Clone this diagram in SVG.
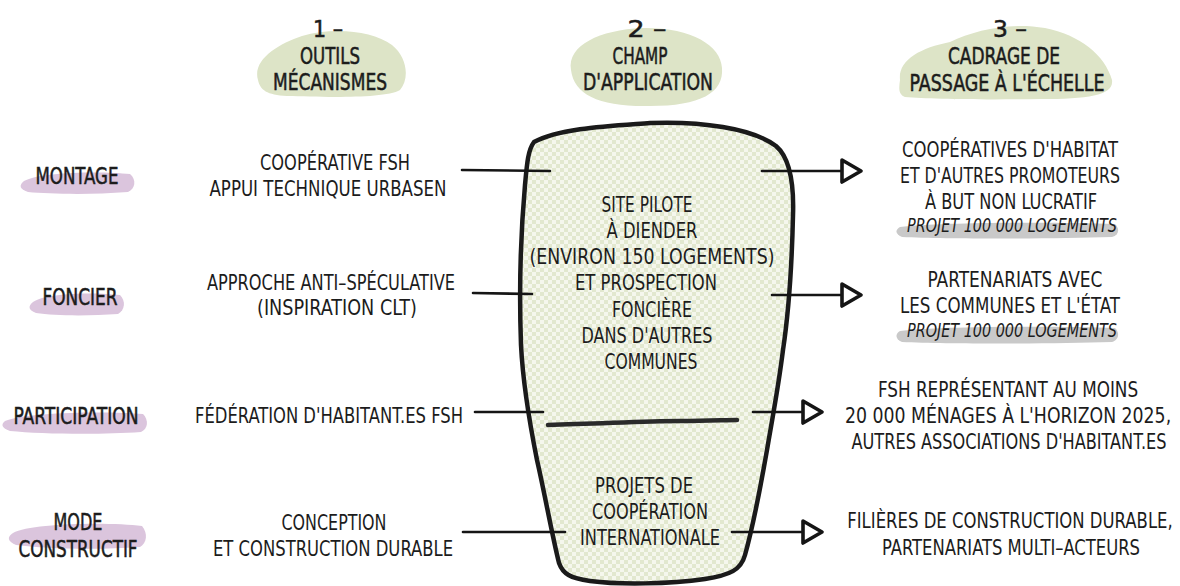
<svg xmlns="http://www.w3.org/2000/svg" width="1180" height="586" viewBox="0 0 1180 586">
<style>
text{font-family:"Liberation Sans Narrow","DejaVu Sans Condensed","Liberation Sans",sans-serif;fill:#1c1c1c;text-anchor:middle;}
.h{font-size:23px;stroke:#1c1c1c;stroke-width:0.5px;}
.b{font-size:22px;}
.i{font-size:19px;font-style:italic;}
.gb{fill:#dde4c7;}
.pb{fill:#dbc5dd;}
.gr{fill:#c9c9c9;}
.ln{stroke:#151515;stroke-width:2.6;fill:none;stroke-linecap:round;}
.ar{stroke:#151515;stroke-width:2.6;fill:none;stroke-linecap:round;marker-end:url(#tri);}
</style>
<defs>
<pattern id="chk" width="8" height="8" patternUnits="userSpaceOnUse">
<rect width="8" height="8" fill="#f5f7ed"/>
<rect width="4" height="4" fill="#e2e8cf"/>
<rect x="4" y="4" width="4" height="4" fill="#e2e8cf"/>
</pattern>
<marker id="tri" viewBox="0 0 24 28" refX="2" refY="14" markerWidth="24" markerHeight="28" markerUnits="userSpaceOnUse" orient="auto">
<path d="M2,3 L21,14 L2,25 Z" fill="#fff" stroke="#151515" stroke-width="3.6" stroke-linejoin="round"/>
</marker>
</defs>
<rect width="1180" height="586" fill="#fff"/>

<g id="header-1">
<path class="gb" d="M258,80 C252,60 278,44 302,36 C332,27 372,30 392,45 C407,57 410,78 400,90 C385,99 322,97 287,96 C267,95 260,90 258,80 Z"/>
<text class="h" x="328" y="37" textLength="30" lengthAdjust="spacingAndGlyphs">1 –</text>
<text class="h" x="330" y="64" textLength="60" lengthAdjust="spacingAndGlyphs">OUTILS</text>
<text class="h" x="330" y="90" textLength="114" lengthAdjust="spacingAndGlyphs">MÉCANISMES</text>
</g>

<g id="header-2">
<path class="gb" d="M571,70 C567,45 600,30 642,28 C690,27 721,45 722,68 C724,93 700,106 650,106 C600,107 574,95 571,70 Z"/>
<text class="h" x="647" y="37" textLength="39" lengthAdjust="spacingAndGlyphs">2 –</text>
<text class="h" x="640" y="64" textLength="55" lengthAdjust="spacingAndGlyphs">CHAMP</text>
<text class="h" x="648" y="90" textLength="130" lengthAdjust="spacingAndGlyphs">D'APPLICATION</text>
</g>

<g id="header-3">
<path class="gb" d="M900,80 C898,60 920,48 950,42 C975,30 1010,22 1045,28 C1080,35 1105,55 1112,80 C1114,95 1090,99 1040,99 C980,100 930,99 905,97 C898,94 899,88 900,80 Z"/>
<text class="h" x="1010" y="37" textLength="34" lengthAdjust="spacingAndGlyphs">3 –</text>
<text class="h" x="1004" y="64" textLength="112" lengthAdjust="spacingAndGlyphs">CADRAGE DE</text>
<text class="h" x="1007" y="91" textLength="195" lengthAdjust="spacingAndGlyphs">PASSAGE À L'ÉCHELLE</text>
</g>

<g id="label-montage">
<path class="pb" d="M24,181 C40,172 100,171 130,174 C137,180 135,189 128,192 C90,195 50,194 28,192 C19,189 19,185 24,181 Z"/>
<text class="h" x="77" y="184" textLength="83" lengthAdjust="spacingAndGlyphs">MONTAGE</text>
</g>
<g id="label-foncier">
<path class="pb" d="M33,302 C45,293 95,292 120,295 C126,301 125,310 118,314 C90,316 55,316 36,313 C28,310 28,306 33,302 Z"/>
<text class="h" x="80" y="305" textLength="75" lengthAdjust="spacingAndGlyphs">FONCIER</text>
</g>
<g id="label-participation">
<path class="pb" d="M5,421 C25,412 110,411 143,414 C149,420 148,429 141,432 C100,435 40,434 10,431 C1,428 1,424 5,421 Z"/>
<text class="h" x="76" y="424" textLength="125" lengthAdjust="spacingAndGlyphs">PARTICIPATION</text>
</g>
<g id="label-mode">
<path class="pb" d="M13,533 C30,523 110,522 142,526 C148,533 147,543 140,547 C100,550 45,549 16,545 C7,541 7,537 13,533 Z"/>
<text class="h" x="78" y="530" textLength="49" lengthAdjust="spacingAndGlyphs">MODE</text>
<text class="h" x="78" y="557" textLength="119" lengthAdjust="spacingAndGlyphs">CONSTRUCTIF</text>
</g>

<g id="tool-montage">
<text class="b" x="335" y="170" textLength="150" lengthAdjust="spacingAndGlyphs">COOPÉRATIVE FSH</text>
<text class="b" x="328" y="196" textLength="237" lengthAdjust="spacingAndGlyphs">APPUI TECHNIQUE URBASEN</text>
</g>
<g id="tool-foncier">
<text class="b" x="331" y="290" textLength="248" lengthAdjust="spacingAndGlyphs">APPROCHE ANTI–SPÉCULATIVE</text>
<text class="b" x="337" y="315" textLength="160" lengthAdjust="spacingAndGlyphs">(INSPIRATION CLT)</text>
</g>
<g id="tool-participation">
<text class="b" x="329" y="423" textLength="268" lengthAdjust="spacingAndGlyphs">FÉDÉRATION D'HABITANT.ES FSH</text>
</g>
<g id="tool-mode">
<text class="b" x="334" y="530" textLength="105" lengthAdjust="spacingAndGlyphs">CONCEPTION</text>
<text class="b" x="333" y="556" textLength="240" lengthAdjust="spacingAndGlyphs">ET CONSTRUCTION DURABLE</text>
</g>

<g id="champ-application">
<path d="M534,142 C560,128 610,126 650,123 C700,121 752,128 776,146 C790,158 794,185 793,215 C792,260 789,310 783,350 C778,390 772,420 767,450 C760,490 752,530 745,555 C741,570 730,575 705,579 C670,584 620,585 590,581 C570,578 563,574 559,563 C552,535 545,495 537,460 C530,425 523,385 521,345 C519,290 521,230 525,185 C527,163 528,150 534,142 Z" fill="url(#chk)" stroke="#1a1a1a" stroke-width="4.5" stroke-linejoin="round"/>
<path d="M548,425 C600,424 640,421 680,421 C710,421 725,420 737,420" fill="none" stroke="#2a2a2a" stroke-width="4.5" stroke-linecap="round"/>
<text class="b" x="647" y="212" textLength="91" lengthAdjust="spacingAndGlyphs">SITE PILOTE</text>
<text class="b" x="652" y="238" textLength="91" lengthAdjust="spacingAndGlyphs">À DIENDER</text>
<text class="b" x="652" y="264" textLength="245" lengthAdjust="spacingAndGlyphs">(ENVIRON 150 LOGEMENTS)</text>
<text class="b" x="646" y="290" textLength="142" lengthAdjust="spacingAndGlyphs">ET PROSPECTION</text>
<text class="b" x="652" y="317" textLength="80" lengthAdjust="spacingAndGlyphs">FONCIÈRE</text>
<text class="b" x="647" y="343" textLength="131" lengthAdjust="spacingAndGlyphs">DANS D'AUTRES</text>
<text class="b" x="651" y="369" textLength="93" lengthAdjust="spacingAndGlyphs">COMMUNES</text>
<text class="b" x="644" y="493" textLength="98" lengthAdjust="spacingAndGlyphs">PROJETS DE</text>
<text class="b" x="650" y="519" textLength="116" lengthAdjust="spacingAndGlyphs">COOPÉRATION</text>
<text class="b" x="650" y="545" textLength="140" lengthAdjust="spacingAndGlyphs">INTERNATIONALE</text>
</g>

<g id="scale-montage">
<path class="gr" d="M900,227 C940,222 1060,222 1115,224 C1120,229 1119,235 1112,237 C1050,239 950,239 902,237 C895,234 895,230 900,227 Z"/>
<text class="b" x="1010" y="157" textLength="216" lengthAdjust="spacingAndGlyphs">COOPÉRATIVES D'HABITAT</text>
<text class="b" x="1010" y="183" textLength="220" lengthAdjust="spacingAndGlyphs">ET D'AUTRES PROMOTEURS</text>
<text class="b" x="1011" y="209" textLength="172" lengthAdjust="spacingAndGlyphs">À BUT NON LUCRATIF</text>
<text class="i" x="1012" y="232" textLength="210" lengthAdjust="spacingAndGlyphs">PROJET 100 000 LOGEMENTS</text>
</g>
<g id="scale-foncier">
<path class="gr" d="M900,331 C940,326 1060,326 1115,328 C1120,333 1119,340 1112,342 C1050,344 950,344 902,342 C895,339 895,334 900,331 Z"/>
<text class="b" x="1015" y="287" textLength="175" lengthAdjust="spacingAndGlyphs">PARTENARIATS AVEC</text>
<text class="b" x="1010" y="313" textLength="220" lengthAdjust="spacingAndGlyphs">LES COMMUNES ET L'ÉTAT</text>
<text class="i" x="1012" y="337" textLength="210" lengthAdjust="spacingAndGlyphs">PROJET 100 000 LOGEMENTS</text>
</g>
<g id="scale-participation">
<text class="b" transform="translate(1008,397) scale(0.75,1)" x="0" y="0" textLength="347" lengthAdjust="spacingAndGlyphs">FSH REPRÉSENTANT AU MOINS</text>
<text class="b" transform="translate(1008,423) scale(0.75,1)" x="0" y="0" textLength="435" lengthAdjust="spacingAndGlyphs">20 000 MÉNAGES À L'HORIZON 2025,</text>
<text class="b" transform="translate(1009,449) scale(0.75,1)" x="0" y="0" textLength="420" lengthAdjust="spacingAndGlyphs">AUTRES ASSOCIATIONS D'HABITANT.ES</text>
</g>
<g id="scale-mode">
<text class="b" transform="translate(1010,528) scale(0.75,1)" x="0" y="0" textLength="434" lengthAdjust="spacingAndGlyphs">FILIÈRES DE CONSTRUCTION DURABLE,</text>
<text class="b" transform="translate(1011,555) scale(0.75,1)" x="0" y="0" textLength="344" lengthAdjust="spacingAndGlyphs">PARTENARIATS MULTI–ACTEURS</text>
</g>

<g id="connectors">
<line class="ln" x1="462" y1="170" x2="550" y2="171"/>
<line class="ln" x1="473" y1="293" x2="532" y2="294"/>
<line class="ln" x1="475" y1="412" x2="543" y2="412"/>
<line class="ln" x1="463" y1="532" x2="565" y2="532"/>
<line class="ar" x1="762" y1="171" x2="842" y2="171"/>
<line class="ar" x1="772" y1="295" x2="842" y2="295"/>
<line class="ar" x1="753" y1="412" x2="803" y2="412"/>
<line class="ar" x1="732" y1="532" x2="803" y2="532"/>
</g>
</svg>
